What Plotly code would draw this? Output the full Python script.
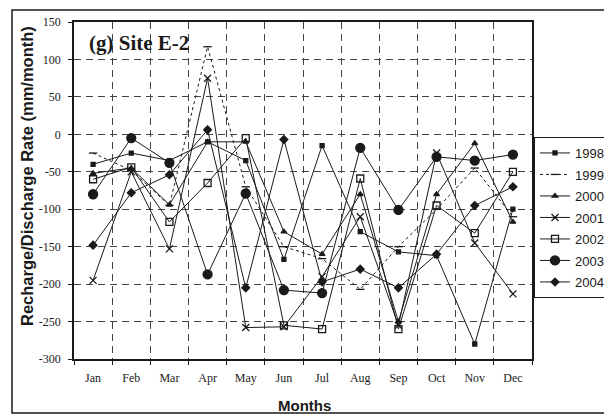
import plotly.graph_objects as go

months = ["Jan", "Feb", "Mar", "Apr", "May", "Jun", "Jul", "Aug", "Sep", "Oct", "Nov", "Dec"]
y1998 = [-40, -25, -35, -10, -35, -167, -15, -130, -157, -162, -280, -100]
y1999 = [-25, -48, -95, 117, -70, -150, -166, -207, -150, -100, -45, -110]
y2000 = [-52, -45, -94, -10, -10, -130, -160, -80, -250, -80, -12, -117]
y2001 = [-195, -50, -153, 75, -258, -257, -190, -110, -255, -25, -145, -213]
y2002 = [-60, -44, -117, -65, -5, -255, -260, -59, -260, -95, -132, -50]
y2003 = [-80, -5, -38, -187, -79, -208, -212, -18, -101, -30, -35, -27]
y2004 = [-148, -78, -54, 6, -205, -7, -197, -180, -205, -160, -95, -70]
y_ticks = [150, 100, 50, 0, -50, -100, -150, -200, -250, -300]

INK = "#1a1a1a"
series = [
    ("1998", y1998, "square", 4, "solid"),
    ("1999", y1999, "line-ew", 6, "dot"),
    ("2000", y2000, "triangle-up", 5, "solid"),
    ("2001", y2001, "x-thin-open", 7, "solid"),
    ("2002", y2002, "square-open", 7, "solid"),
    ("2003", y2003, "circle", 9, "solid"),
    ("2004", y2004, "diamond", 6, "solid"),
]

fig = go.Figure()
for name, ys, sym, sz, dash in series:
    fig.add_trace(go.Scatter(
        x=months, y=ys, name=name, legendgroup=name, mode="lines+markers",
        line=dict(color=INK, width=1, dash=dash),
        marker=dict(symbol=sym, size=sz, color=INK,
                    line=dict(color=INK, width=1.3)),
    ))

L, R, T, B = 74, 72, 22, 57
W, H = 604, 416
pw, ph = W - L - R, H - T - B

def px(xp):
    return (xp - L) / pw

def py(yp):
    return (H - B - yp) / ph

fig.update_layout(
    width=W, height=H,
    margin=dict(l=L, r=R, t=T, b=B, autoexpand=False),
    paper_bgcolor="white", plot_bgcolor="white",
    showlegend=True,
    legend=dict(x=px(534), y=py(137), xanchor="left", yanchor="top",
                bordercolor=INK, borderwidth=1, bgcolor="white",
                font=dict(family="Liberation Sans", size=13, color=INK),
                tracegroupgap=1.6),
    xaxis=dict(type="category", categoryorder="array", categoryarray=months,
               range=[-0.5, 11.5], tickson="boundaries",
               showgrid=True, gridcolor="#444", griddash="7px,5px", gridwidth=1,
               showline=True, linecolor=INK, linewidth=1.5, mirror=True,
               ticks="outside", ticklen=4, tickcolor=INK, ticklabelstandoff=7,
               tickfont=dict(family="Liberation Serif", size=12, color=INK),
               zeroline=False),
    yaxis=dict(range=[-300, 150], tickvals=y_ticks, ticktext=[str(v) for v in y_ticks],
               showgrid=True, gridcolor="#444", griddash="7px,5px", gridwidth=1,
               showline=True, linecolor=INK, linewidth=1.5, mirror=True,
               ticks="outside", ticklen=4, tickcolor=INK, ticklabelstandoff=5,
               tickfont=dict(family="Liberation Serif", size=12, color=INK),
               zeroline=False),
    annotations=[
        dict(text="<b>(g) Site E-2</b>", x=px(87), y=py(43), xref="paper", yref="paper",
             xanchor="left", yanchor="middle", showarrow=False,
             font=dict(family="Liberation Serif", size=21, color=INK)),
        dict(text="<b>Recharge/Discharge Rate (mm/month)</b>", x=px(27), y=py(176),
             xref="paper", yref="paper", xanchor="center", yanchor="middle",
             textangle=-90, showarrow=False,
             font=dict(family="Liberation Sans", size=16.5, color=INK)),
        dict(text="<b>Months</b>", x=px(304), y=py(405), xref="paper", yref="paper",
             xanchor="center", yanchor="middle", showarrow=False,
             font=dict(family="Liberation Sans", size=15, color=INK)),
    ],
    shapes=[
        dict(type="rect", xref="paper", yref="paper",
             x0=px(12), x1=px(640), y0=py(413), y1=py(10),
             line=dict(color=INK, width=1.5), fillcolor="rgba(0,0,0,0)", layer="below"),
    ],
)

fig.write_html("out.html")
